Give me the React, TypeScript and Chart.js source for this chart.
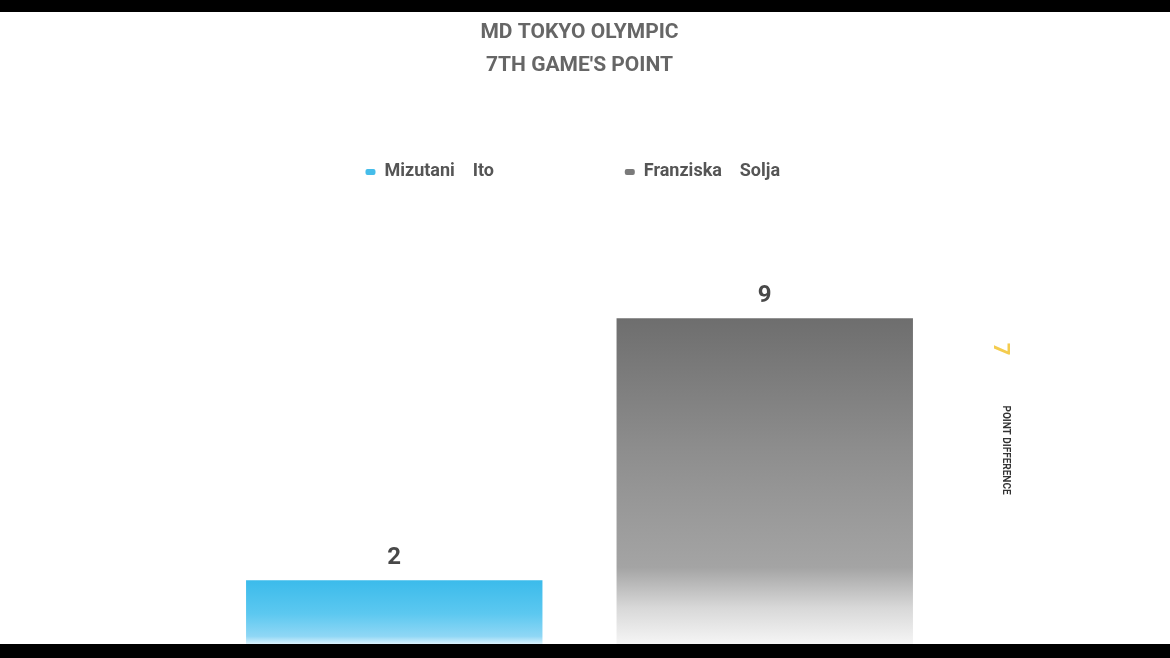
import { useEffect, useRef } from "react";
import { Chart, registerables } from "chart.js";

Chart.register(...registerables);

const titleLines = ["MD TOKYO OLYMPIC", "7TH GAME'S POINT"];
const teams = ["Mizutani    Ito", "Franziska    Solja"];
const points = [2, 9];
const solidColors = ["#45bdea", "#7a7a7a"];
const diffLabel = "POINT DIFFERENCE";

const FONT = "Roboto, 'DejaVu Sans', sans-serif";

// gradient from the bar top down to the (hidden) baseline
function barFill(ctx: any, idx: number) {
	const chart = ctx.chart;
	const area = chart.chartArea;
	const v = ctx.raw;
	if (!area || v == null) return solidColors[idx];
	const y = chart.scales.y;
	const top = y.getPixelForValue(v);
	const base = y.getPixelForValue(0);
	const g = chart.ctx.createLinearGradient(0, top, 0, base);
	if (idx === 0) {
		g.addColorStop(0, "#3bbbeb");
		g.addColorStop(0.45, "#5cc8f0");
		g.addColorStop(0.75, "#8fd7f5");
		g.addColorStop(0.87, "#e6f6fd");
		g.addColorStop(1, "#ffffff");
	} else {
		g.addColorStop(0, "#6e6e6e");
		g.addColorStop(0.4, "#8e8e8e");
		g.addColorStop(0.74, "#a4a4a4");
		g.addColorStop(0.86, "#d8d8d8");
		g.addColorStop(0.97, "#f6f6f6");
		g.addColorStop(1, "#ffffff");
	}
	return g;
}

const valueLabels = {
	id: "valueLabels",
	afterDatasetsDraw(chart: any) {
		const ctx = chart.ctx;
		ctx.save();
		ctx.font = `bold 24px ${FONT}`;
		ctx.fillStyle = "#484848";
		ctx.textAlign = "center";
		ctx.textBaseline = "middle";
		chart.data.datasets.forEach((ds: any, i: number) => {
			const meta = chart.getDatasetMeta(i);
			meta.data.forEach((bar: any, j: number) => {
				const v = ds.data[j];
				if (v == null) return;
				ctx.fillText(String(v), bar.x, bar.y - 22);
			});
		});
		ctx.restore();
	}
};

const diffNote = {
	id: "diffNote",
	afterDraw(chart: any) {
		const { ctx, chartArea } = chart;
		const diff = Math.abs(points[1] - points[0]);
		ctx.save();
		ctx.textAlign = "center";
		ctx.textBaseline = "middle";

		ctx.save();
		ctx.translate(chartArea.right + 49, 337);
		ctx.rotate(Math.PI / 2);
		ctx.font = `bold 22px ${FONT}`;
		ctx.fillStyle = "#f4cc4e";
		ctx.fillText(String(diff), 0, 0);
		ctx.restore();

		ctx.save();
		ctx.translate(chartArea.right + 55, 438);
		ctx.rotate(Math.PI / 2);
		ctx.font = `bold 10px ${FONT}`;
		ctx.fillStyle = "#333";
		ctx.fillText(diffLabel, 0, 0);
		ctx.restore();

		ctx.restore();
	}
};

function MatchChart() {
	const canvasRef = useRef<HTMLCanvasElement>(null);

	useEffect(() => {
		if (!canvasRef.current) return;

		const chart = new Chart(canvasRef.current, {
			type: "bar",
			data: {
				labels: teams,
				datasets: teams.map((team, i) => ({
					label: team,
					data: teams.map((_, j) => (j === i ? points[i] : null)),
					backgroundColor: (c: any) => barFill(c, i),
					borderWidth: 0,
					skipNull: true,
					categoryPercentage: 0.8,
					barPercentage: 1
				}))
			},
			options: {
				animation: false,
				responsive: true,
				maintainAspectRatio: false,
				layout: { padding: { left: 209, right: 220, top: 0, bottom: 0 } },
				plugins: {
					title: {
						display: true,
						text: titleLines,
						color: "#666",
						font: { family: FONT, size: 21, weight: "bold", lineHeight: 1.57 },
						padding: { top: 4, bottom: 71 }
					},
					legend: {
						display: true,
						labels: {
							color: "#555",
							font: { family: FONT, size: 18, weight: "bold" },
							boxWidth: 10,
							boxHeight: 6,
							useBorderRadius: true,
							borderRadius: 2,
							padding: 10,
							generateLabels: (ch: any) =>
								Chart.defaults.plugins.legend.labels
									.generateLabels(ch)
									.map((item: any, k: number) => ({
										...item,
										text: item.text + " ".repeat(k === 0 ? 27 : 3),
										fillStyle: solidColors[k],
										strokeStyle: solidColors[k],
										lineWidth: 0
									}))
						}
					},
					tooltip: { enabled: false }
				},
				scales: {
					x: { display: false },
					y: { display: false, min: 0, max: 12.4 }
				}
			},
			plugins: [valueLabels, diffNote]
		});

		return () => {
			chart.destroy();
		};
	}, []);

	return (
		<div style={{ position: "relative", width: 1170, height: 643 }}>
			<canvas ref={canvasRef} />
		</div>
	);
}

export default function App() {
	return (
		<div
			style={{
				position: "fixed",
				inset: 0,
				background: "#000",
				overflow: "hidden"
			}}
		>
			<div
				style={{
					position: "absolute",
					top: 12,
					left: 0,
					width: 1170,
					height: 632,
					background: "#fff",
					overflow: "hidden"
				}}
			>
				<MatchChart />
			</div>
		</div>
	);
}
